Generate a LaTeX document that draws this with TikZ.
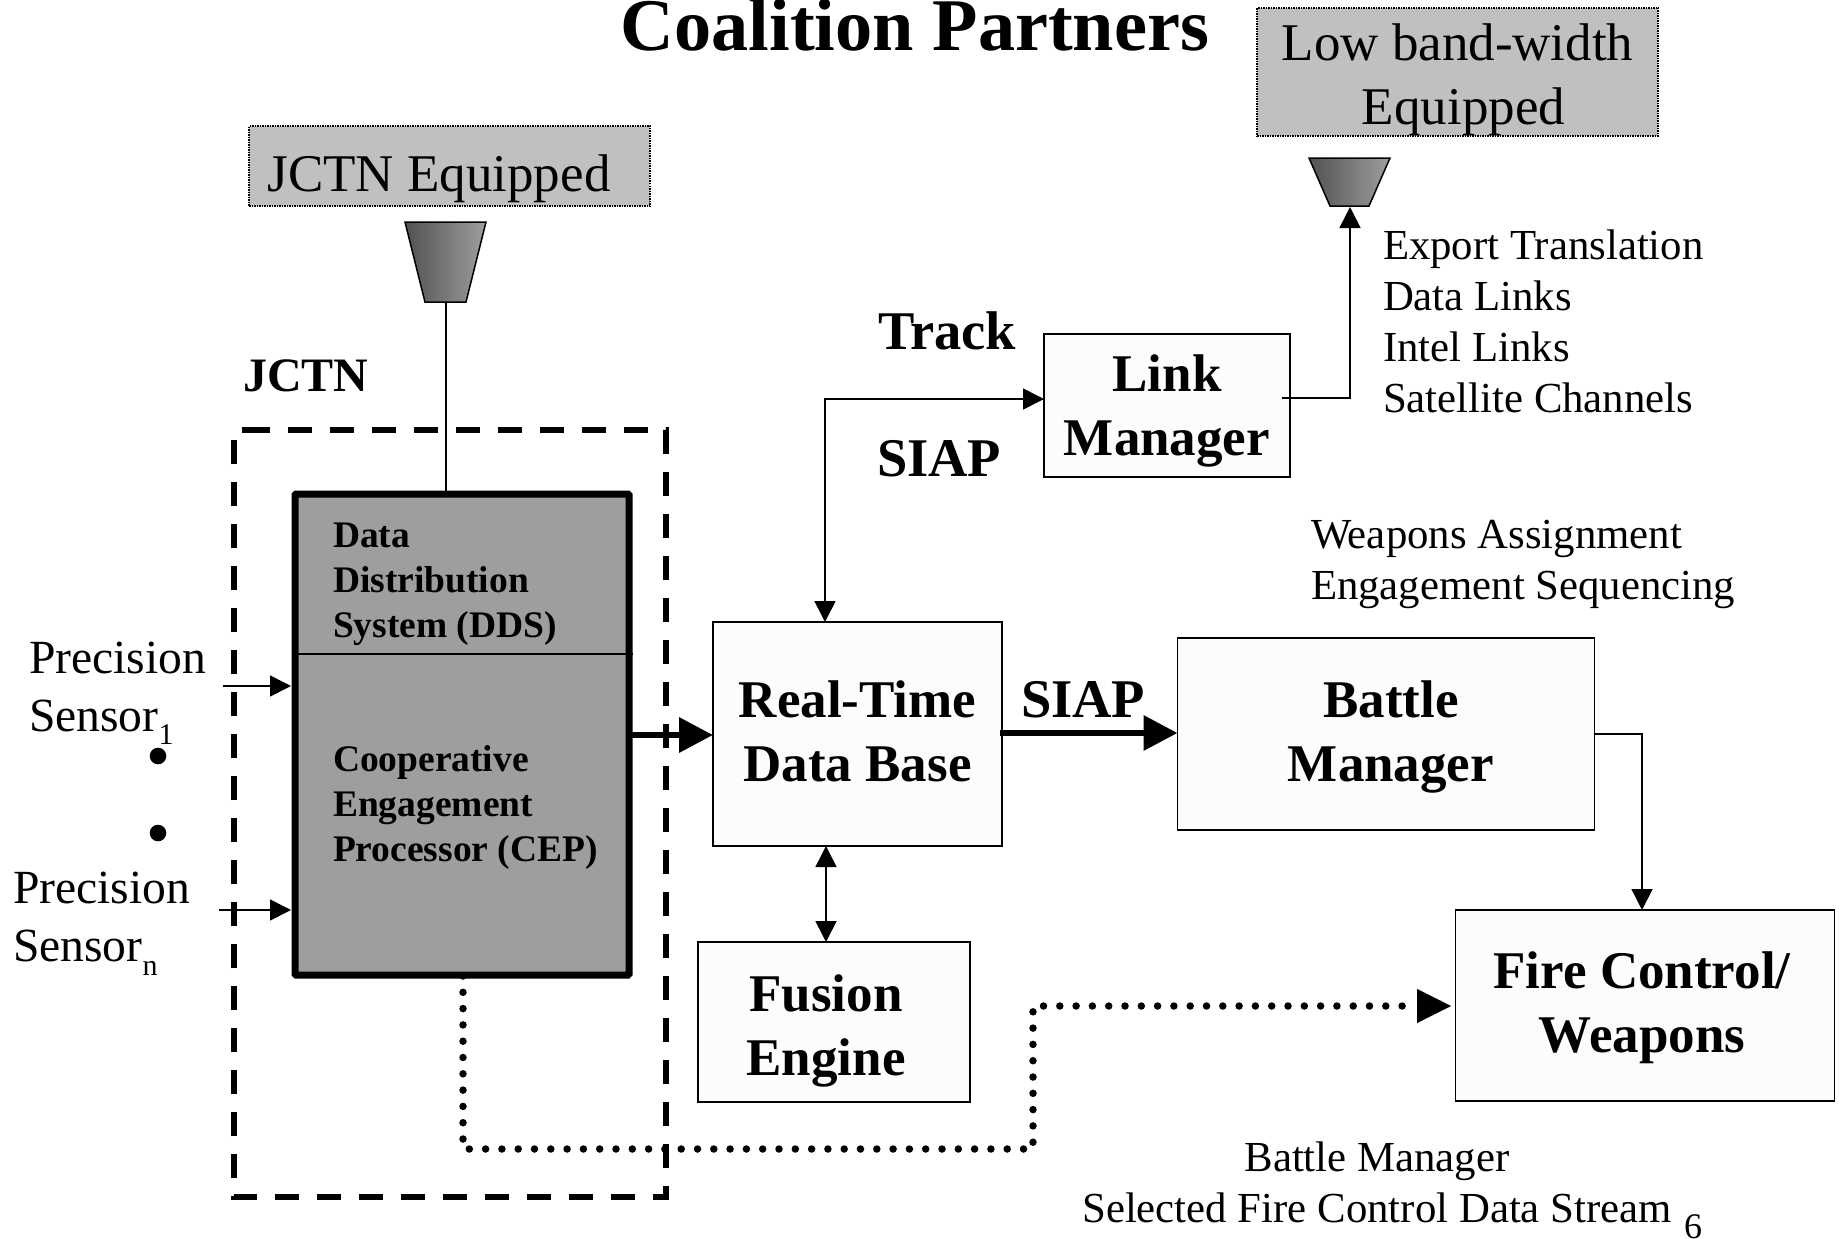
\documentclass[tikz,border=0pt]{standalone}
\usepackage{fontspec}
\setmainfont{Liberation Serif}
\usetikzlibrary{arrows.meta}
\definecolor{panel}{HTML}{C0C0C0}
\definecolor{procgray}{HTML}{9E9E9E}
\definecolor{boxfill}{HTML}{FCFCFC}
\newcommand{\fs}[2]{\fontsize{#1}{#2}\selectfont}
% text offset from a box centre: #1 = twice the x offset, #2 = raise of the last baseline
\newcommand{\placed}[3]{\smash{\makebox[0pt]{\hspace*{#1}\raisebox{#2}{\begin{tabular}[b]{@{}c@{}}#3\end{tabular}}}}}
\tikzset{
  every node/.style={inner sep=0pt,outer sep=0pt},
  txt/.style={anchor=base west,align=left},
  ctr/.style={anchor=base,align=center},
  boxb/.style={draw=black,line width=1.5pt,fill=boxfill,font=\fs{53}{64}\bfseries},
  panelbox/.style={draw=black,line width=1.5pt,densely dotted,fill=panel,font=\fs{53}{64}},
  horn/.style={draw=black,line width=1.5pt,left color=black!68,right color=black!38},
  thin arrow/.style={line width=1.6pt,-{Triangle[length=21pt,width=21pt]}},
  both arrow/.style={line width=1.6pt,{Triangle[length=21pt,width=21pt]}-{Triangle[length=21pt,width=21pt]}},
  fat arrow/.style={line width=6.5pt,-{Triangle[length=34pt,width=34pt]}},
  sm/.style={font=\fs{42.8}{51}},
  bd/.style={font=\fs{54.5}{64}\bfseries},
  prc/.style={font=\fs{37.5}{45}\bfseries},
  sens/.style={font=\fs{47.6}{58}},
}
\begin{document}
\begin{tikzpicture}[x=1pt,y=-1pt]
\useasboundingbox (0,0) rectangle (1839,1239);
% panels
\node[panelbox,minimum width=401pt,minimum height=128pt] (lowbw) at (1457.5,72) {\placed{0pt}{-53pt}{Low band-width\\\hspace*{12pt}Equipped}};
\node[panelbox,minimum width=401pt,minimum height=80pt] (jctneq) at (449.5,166) {\placed{-21pt}{-25pt}{JCTN Equipped}};
% horns
\path[horn] (1309,158) -- (1390,158) -- (1369,206) -- (1330,206) -- cycle;
\path[horn] (405,222) -- (486,222) -- (466,302) -- (425,302) -- cycle;
\coordinate (hornA) at (1350,207);
\coordinate (hornB) at (446,302);
% JCTN frame
\draw[line width=5.5pt,dash pattern=on 24pt off 18pt] (246,430) -- (666,430) -- (666,1197) -- (234,1197) -- (234,430) -- cycle;
% processor block
\node[draw=black,line width=7pt,rounded corners=1pt,fill=procgray,minimum width=334pt,minimum height=481pt] (proc) at (462,734.5) {};
\coordinate (procleft) at ([xshift=-4pt]proc.west);
\draw[line width=1.5pt] (proc.west |- 0,654) -- ++(338,0);
\node[txt,prc] (dds) at (333,637) {Data\\Distribution\\System (DDS)};
\node[txt,prc] (cep) at (333,861) {Cooperative\\Engagement\\Processor (CEP)};
% boxes
\node[boxb,minimum width=246pt,minimum height=143pt] (link) at (1167,405.5) {\placed{0pt}{-49.5pt}{Link\\Manager}};
\node[boxb,minimum width=289pt,minimum height=224pt] (rtdb) at (857.5,734) {\placed{0pt}{-47pt}{Real-Time\\Data Base}};
\node[boxb,minimum width=272pt,minimum height=160pt] (fusion) at (834,1022) {\placed{-16pt}{-53.5pt}{Fusion\\Engine}};
\node[boxb,minimum width=417pt,minimum height=192pt] (battle) at (1386,734) {\placed{10pt}{-47pt}{Battle\\Manager}};
\node[boxb,minimum width=379pt,minimum height=191pt] (fire) at (1645,1005.5) {\placed{-6pt}{-47pt}{Fire Control/\\Weapons}};
% labels
\node[anchor=base,font=\fs{74.3}{74}\bfseries] (title) at (915,51) {Coalition Partners};
\node[txt,font=\fs{48}{48}\bfseries] (jctn) at (243,391) {JCTN};
\node[txt,bd] (track) at (878,349) {Track};
\node[txt,bd] (siapA) at (877,476) {SIAP};
\node[txt,bd] (siapB) at (1021,717) {SIAP};
\node[txt,sm] (export) at (1383,412) {Export Translation\\Data Links\\Intel Links\\Satellite Channels};
\node[txt,sm] (weap) at (1311,599) {Weapons Assignment\\Engagement Sequencing};
\node[ctr,sm] (bmsel) at (1377,1222) {Battle Manager\\Selected Fire Control Data Stream};
\node[anchor=base,font=\fs{36}{36}] (pagenum) at (1693,1238) {6};
\node[txt,sens] (s1) at (29,731) {Precision\\Sensor\rlap{\raisebox{-13pt}{\fs{30}{30}1}}};
\node[txt,sens] (sn) at (13,961) {Precision\\Sensor\rlap{\raisebox{-14pt}{\fs{30}{30}n}}};
\fill (158,756) circle (8.3pt) (158,833) circle (8.3pt);
% connectors
\coordinate (s1a) at (223,686);
\coordinate (sna) at (219,910);
\coordinate (linkout) at (1282,398);
\draw[thin arrow] (s1a) -- (s1a -| procleft);
\draw[thin arrow] (sna) -- (sna -| procleft);
\draw[line width=1.6pt] (hornB) -- (hornB |- proc.north);
\draw[thin arrow] (linkout) -| (hornA);
\draw[both arrow] (rtdb.north -| 825,0) |- (link.west |- 0,399);
\draw[both arrow] (rtdb.south -| 826,0) -- (fusion.north -| 826,0);
\draw[fat arrow] (proc.east |- 0,735) -- (rtdb.west |- 0,735);
\draw[fat arrow] (1000,733) -- (battle.west |- 0,733);
\draw[thin arrow] (battle.east |- 0,734) -| (fire.north -| 1642,0);
\coordinate (dotA) at (463,976);
\coordinate (dotEnd) at (1417,1006);
\coordinate (dotTip) at (1451,1006);
\draw[line width=7.5pt,line cap=round,dash pattern=on 0pt off 16.3pt] (dotA) -- (463,1149) -- (1033,1149) -- (1033,1006) -- (dotEnd);
\draw[line width=0.1pt,-{Triangle[length=34pt,width=34pt]}] (dotEnd) -- (dotTip);
\end{tikzpicture}
\end{document}
